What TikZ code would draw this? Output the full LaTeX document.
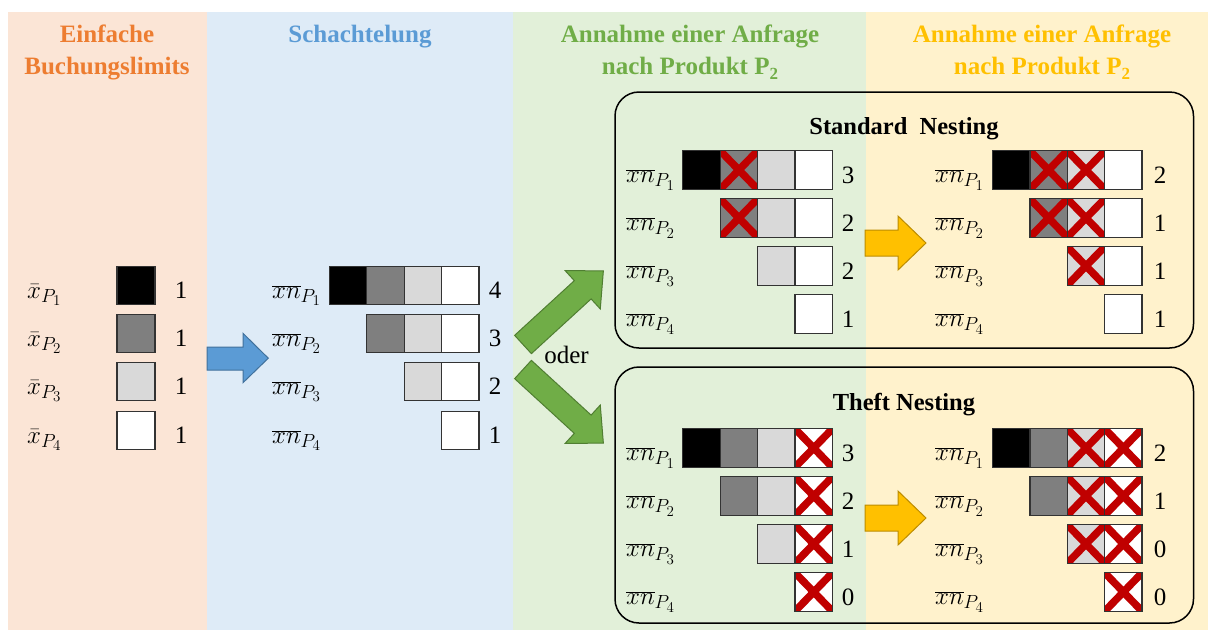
\RequirePackage{fix-cm}
\documentclass[tikz,border=0pt]{standalone}
\usepackage{fontspec}
\setmainfont{Liberation Serif}
\usetikzlibrary{calc}
\DeclareMathSizes{24}{25}{19}{15}

\definecolor{panelOrange}{HTML}{FBE5D6}
\definecolor{panelBlue}{HTML}{DEEBF7}
\definecolor{panelGreen}{HTML}{E2F0D9}
\definecolor{panelYellow}{HTML}{FFF2CC}
\definecolor{headOrange}{HTML}{ED7D31}
\definecolor{headBlue}{HTML}{5B9BD5}
\definecolor{headGreen}{HTML}{70AD47}
\definecolor{headYellow}{HTML}{FFC000}
\definecolor{edgeBlue}{HTML}{41719C}
\definecolor{edgeGreen}{HTML}{507E32}
\definecolor{edgeYellow}{HTML}{BC8C00}
\definecolor{crossRed}{HTML}{C00000}
\definecolor{greyDark}{HTML}{7F7F7F}
\definecolor{greyLight}{HTML}{D9D9D9}

\newcommand\cellw{37.4}
\newcommand\cellh{38.5}
% lowered index digit in the headings
\newcommand\headsub[1]{\raisebox{-5pt}{\fontsize{17}{20}\selectfont\bfseries #1}}

\tikzset{
  head/.style={font=\fontsize{25}{30}\selectfont\bfseries, anchor=base, inner sep=0pt},
  boxtitle/.style={font=\fontsize{24.5}{30}\selectfont\bfseries, anchor=base, inner sep=0pt},
  rowlabel/.style={font=\fontsize{24}{28}\selectfont, anchor=base west, inner sep=0pt},
  count/.style={font=\fontsize{25}{30}\selectfont, anchor=base, inner sep=0pt},
  cellbox/.style={draw=black!80, line width=1.3pt, minimum width=\cellw pt,
    minimum height=\cellh pt, inner sep=0pt, outer sep=0pt},
  crossline/.style={draw=crossRed, line width=7.5pt},
  nestbox/.style={draw=black, line width=1.5pt, rounded corners=24pt},
  blockarrow/.style={line width=1pt, line join=miter},
}

% one cross over a named cell, kept inside the cell
\newcommand\crossout[1]{%
  \begin{scope}
    \clip (#1.south west) rectangle (#1.north east);
    \draw[crossline] (#1.south west) -- (#1.north east)
                     (#1.north west) -- (#1.south east);
  \end{scope}
  \draw[draw=black!80, line width=1.3pt] (#1.south west) rectangle (#1.north east);
}

% a row of cells: name prefix, left x, centre y, list of fill/crossed
\newcommand\cellrow[4]{%
  \foreach \cf/\xc [count=\ci] in {#4} {
    \node[cellbox, fill=\cf] (#1-\ci) at ({#2+(\ci-0.5)*\cellw}, #3) {};
    \ifnum\xc=1 \crossout{#1-\ci}\fi
  }%
}

\begin{document}
\begin{tikzpicture}[x=1pt, y=-1pt]
\useasboundingbox (0,0) rectangle (1208,630);

% coloured columns
\fill[panelOrange] (8,12) rectangle (207,630);
\fill[panelBlue]   (207,12) rectangle (513,630);
\fill[panelGreen]  (513,12) rectangle (866,630);
\fill[panelYellow] (866,12) rectangle (1208,630);

% column headings
\node[head, text=headOrange] (hO1) at (107,42.5) {Einfache};
\node[head, text=headOrange] (hO2) at (107,74) {Buchungslimits};
\node[head, text=headBlue]   (hB1) at (360,42.5) {Schachtelung};
\node[head, text=headGreen]  (hG1) at (690,42.5) {Annahme\ einer Anfrage};
\node[head, text=headGreen]  (hG2) at (690,74) {nach Produkt P\headsub{2}};
\node[head, text=headYellow] (hY1) at (1042,42.5) {Annahme\ einer Anfrage};
\node[head, text=headYellow] (hY2) at (1042,74) {nach Produkt P\headsub{2}};

% simple booking limits
\foreach \r/\yy/\cf in {1/285.5/black, 2/333.5/greyDark, 3/381.5/greyLight, 4/430.5/white} {
  \node[rowlabel] (bl\r) at (27,\yy+12.5) {$\bar{x}_{P_{\r}}$};
  \node[cellbox, fill=\cf, minimum width=38pt] (bc\r) at (136,\yy) {};
  \node[count] (bn\r) at (181,\yy+13) {1};
}

% nested limits
\foreach \r/\yy in {1/285.5, 2/333.5, 3/381.5, 4/430.5} {
  \node[rowlabel] (ml\r) at (272,\yy+12.5) {$\overline{xn}_{P_{\r}}$};
}
\cellrow{m1}{329.4}{285.5}{black/0, greyDark/0, greyLight/0, white/0}
\cellrow{m2}{366.8}{333.5}{greyDark/0, greyLight/0, white/0}
\cellrow{m3}{404.2}{381.5}{greyLight/0, white/0}
\cellrow{m4}{441.6}{430.5}{white/0}
\foreach \r/\yy/\n in {1/285.5/4, 2/333.5/3, 3/381.5/2, 4/430.5/1}
  \node[count] (mn\r) at (495,\yy+13) {\n};

% blue arrow
\draw[blockarrow, fill=headBlue, draw=edgeBlue]
  (207,347) -- (243,347) -- (243,333.3) -- (268.3,358.2) -- (243,382.7)
  -- (243,370) -- (207,370) -- cycle;

% green arrows
\begin{scope}[shift={(523,344.5)}, rotate=42.5]
  \draw[blockarrow, fill=headGreen, draw=edgeGreen]
    (0,12.4) -- (81,12.4) -- (81,26) -- (109,0) -- (81,-26) -- (81,-12.4) -- (0,-12.4) -- cycle;
\end{scope}
\begin{scope}[shift={(523,369.5)}, rotate=-42.5]
  \draw[blockarrow, fill=headGreen, draw=edgeGreen]
    (0,12.4) -- (81,12.4) -- (81,26) -- (109,0) -- (81,-26) -- (81,-12.4) -- (0,-12.4) -- cycle;
\end{scope}
\node[count] (oder) at (566.5,363.5) {oder};

% standard nesting
\draw[nestbox] (615,92) rectangle (1193.5,348);
\node[boxtitle] (stitle) at (904,134) {Standard\ \ Nesting};
\foreach \r/\yy in {1/170, 2/218, 3/266, 4/314} {
  \node[rowlabel] (sl\r) at (626,\yy+12.5) {$\overline{xn}_{P_{\r}}$};
  \node[rowlabel] (sr\r) at (935,\yy+12.5) {$\overline{xn}_{P_{\r}}$};
}
\cellrow{sa1}{682.8}{170}{black/0, greyDark/1, greyLight/0, white/0}
\cellrow{sa2}{720.2}{218}{greyDark/1, greyLight/0, white/0}
\cellrow{sa3}{757.6}{266}{greyLight/0, white/0}
\cellrow{sa4}{795.0}{314}{white/0}
\cellrow{sb1}{992.5}{170}{black/0, greyDark/1, greyLight/1, white/0}
\cellrow{sb2}{1029.9}{218}{greyDark/1, greyLight/1, white/0}
\cellrow{sb3}{1067.3}{266}{greyLight/1, white/0}
\cellrow{sb4}{1104.7}{314}{white/0}
\foreach \r/\yy/\na/\nb in {1/170/3/2, 2/218/2/1, 3/266/2/1, 4/314/1/1} {
  \node[count] (san\r) at (848,\yy+13) {\na};
  \node[count] (sbn\r) at (1160,\yy+13) {\nb};
}
\draw[blockarrow, fill=headYellow, draw=edgeYellow]
  (865,230) -- (898,230) -- (898,216) -- (926,243) -- (898,270)
  -- (898,256) -- (865,256) -- cycle;

% theft nesting
\draw[nestbox] (615,367) rectangle (1193.5,623);
\node[boxtitle] (ttitle) at (904,410) {Theft Nesting};
\foreach \r/\yy in {1/448, 2/496, 3/544, 4/592} {
  \node[rowlabel] (tl\r) at (626,\yy+12.5) {$\overline{xn}_{P_{\r}}$};
  \node[rowlabel] (tr\r) at (935,\yy+12.5) {$\overline{xn}_{P_{\r}}$};
}
\cellrow{ta1}{682.8}{448}{black/0, greyDark/0, greyLight/0, white/1}
\cellrow{ta2}{720.2}{496}{greyDark/0, greyLight/0, white/1}
\cellrow{ta3}{757.6}{544}{greyLight/0, white/1}
\cellrow{ta4}{795.0}{592}{white/1}
\cellrow{tb1}{992.5}{448}{black/0, greyDark/0, greyLight/1, white/1}
\cellrow{tb2}{1029.9}{496}{greyDark/0, greyLight/1, white/1}
\cellrow{tb3}{1067.3}{544}{greyLight/1, white/1}
\cellrow{tb4}{1104.7}{592}{white/1}
\foreach \r/\yy/\na/\nb in {1/448/3/2, 2/496/2/1, 3/544/1/0, 4/592/0/0} {
  \node[count] (tan\r) at (848,\yy+13) {\na};
  \node[count] (tbn\r) at (1160,\yy+13) {\nb};
}
\draw[blockarrow, fill=headYellow, draw=edgeYellow]
  (865,505) -- (898,505) -- (898,491) -- (926,518) -- (898,545)
  -- (898,531) -- (865,531) -- cycle;
\end{tikzpicture}
\end{document}
